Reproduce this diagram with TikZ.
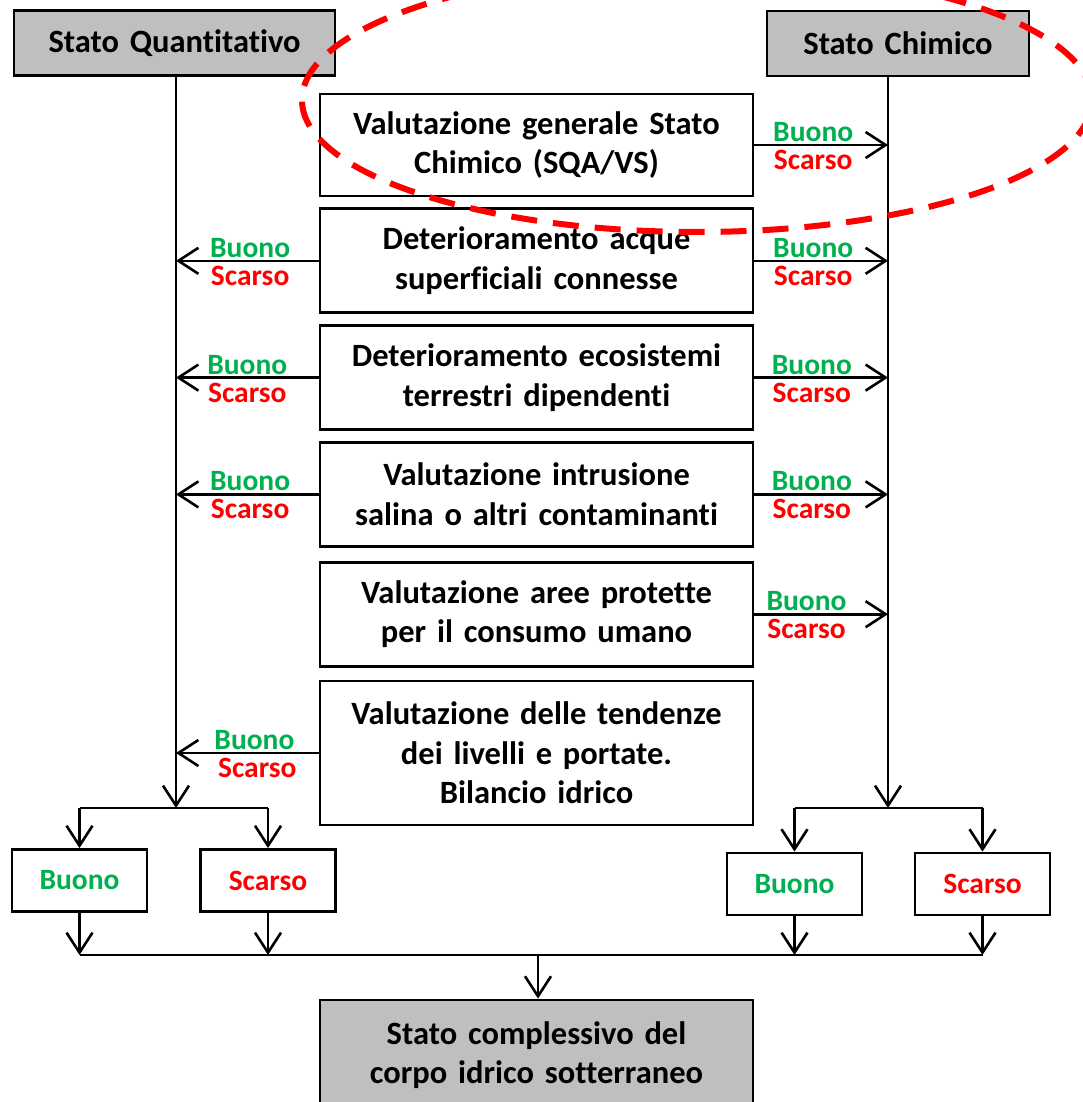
\documentclass[tikz,border=0pt]{standalone}
\usepackage{fontspec}
\setmainfont{Carlito}[Ligatures=NoCommon, WordSpace=0.8]
\usetikzlibrary{arrows.meta, positioning}
\definecolor{okgreen}{RGB}{0,176,80}
\definecolor{headgray}{RGB}{191,191,191}

\begin{document}
\begin{tikzpicture}[x=1pt, y=-1pt,
        box/.style={rectangle, draw=black, line width=2.8pt, text width=420pt, align=center,
                  minimum width=433pt, minimum height=104pt, inner sep=0pt,
                  font=\fontsize{32.5}{39.5}\selectfont\bfseries},
        head/.style={box, fill=headgray, minimum height=65pt},
        res/.style={rectangle, draw=black, line width=2.8pt, minimum width=135pt,
                  minimum height=62pt, inner sep=0pt, font=\fontsize{29.5}{30}\selectfont\bfseries},
        arr/.style={-{Straight Barb[length=20pt,width=26pt]}, line width=2.6pt},
        lab/.style={font=\fontsize{29.5}{30}\selectfont\bfseries, inner sep=0pt},
        good/.style={lab, text=okgreen, yshift=13pt},
        bad/.style={lab, text=red, yshift=-15pt},
        node distance=10pt]
      \useasboundingbox (0,0) rectangle (1082,1102);
      % headers
      \node[head, minimum width=321pt, text width=310pt] (sq) at (174.5,43) {Stato Quantitativo};
      \node[head, minimum width=262pt, text width=250pt] (sc) at (898,43.5) {Stato Chimico};
      % middle column
      \node[box, minimum height=102pt] (m1) at (536.5,145) {Valutazione generale Stato\\Chimico (SQA/VS)};
      \node[box, below=of m1] (m2) {Deterioramento acque\\superficiali connesse};
      \node[box, below=of m2] (m3) {Deterioramento ecosistemi\\terrestri dipendenti};
      \node[box, below=of m3] (m4) {Valutazione intrusione\\salina o altri contaminanti};
      \node[box, below=13pt of m4] (m5) {Valutazione aree protette\\per il consumo umano};
      \node[box, below=12pt of m5, minimum height=144pt] (m6) {Valutazione delle tendenze\\dei livelli e portate.\\Bilancio idrico};
      % main lines
      \coordinate (qbr) at (176,808);
      \coordinate (cbr) at (888,808);
      \draw[arr] (sq.south -| qbr) -- (qbr);
      \draw[arr] (sc.south -| cbr) -- (cbr);
      % to Stato Quantitativo
      \draw[arr] (m2.west) -- (m2.west -| qbr) node[good, pos=.48] {Buono} node[bad, pos=.48] {Scarso};
      \draw[arr] (m3.west) -- (m3.west -| qbr) node[good, pos=.5] {Buono} node[bad, pos=.5] {Scarso};
      \draw[arr] (m4.west) -- (m4.west -| qbr) node[good, pos=.48] {Buono} node[bad, pos=.48] {Scarso};
      \draw[arr] (m6.west) -- (m6.west -| qbr) node[good, pos=.45] {Buono} node[bad, pos=.43] {Scarso};
      % to Stato Chimico
      \draw[arr] (m1.east) -- (m1.east -| cbr) node[good, pos=.44] {Buono} node[bad, pos=.44] {Scarso};
      \draw[arr] (m2.east) -- (m2.east -| cbr) node[good, pos=.44] {Buono} node[bad, pos=.44] {Scarso};
      \draw[arr] (m3.east) -- (m3.east -| cbr) node[good, pos=.43] {Buono} node[bad, pos=.43] {Scarso};
      \draw[arr] (m4.east) -- (m4.east -| cbr) node[good, pos=.43] {Buono} node[bad, pos=.43] {Scarso};
      \draw[arr] (m5.east) -- (m5.east -| cbr) node[good, pos=.39] {Buono} node[bad, pos=.39] {Scarso};
      % results
      \node[res, text=okgreen] (qb) at (79.5,880.5) {Buono};
      \node[res, text=red] (qs) at (268,880.5) {Scarso};
      \node[res, text=okgreen] (cb) at (794.5,884) {Buono};
      \node[res, text=red] (cs) at (982.5,884) {Scarso};
      \draw[line width=2.6pt] (qb.north |- qbr) -- (qs.north |- qbr);
      \draw[line width=2.6pt] (cb.north |- cbr) -- (cs.north |- cbr);
      \draw[arr] (qb.north |- qbr) -- (qb.north);
      \draw[arr] (qs.north |- qbr) -- (qs.north);
      \draw[arr] (cb.north |- cbr) -- (cb.north);
      \draw[arr] (cs.north |- cbr) -- (cs.north);
      % overall state
      \node[head, minimum height=110pt] (tot) at (536.5,1055) {Stato complessivo del\\corpo idrico sotterraneo};
      \coordinate (join) at (538,955);
      \draw[line width=1.8pt] (qb.south |- join) -- (cs.south |- join);
      \draw[arr] (qb.south) -- (qb.south |- join);
      \draw[arr] (qs.south) -- (qs.south |- join);
      \draw[arr] (cb.south) -- (cb.south |- join);
      \draw[arr] (cs.south) -- (cs.south |- join);
      \draw[arr] (join) -- (join |- tot.north);
      % highlight
      \draw[red, line width=6pt, dash pattern=on 26pt off 16pt] (697,100) ellipse [x radius=395pt, y radius=132pt];
    \end{tikzpicture}
\end{document}
